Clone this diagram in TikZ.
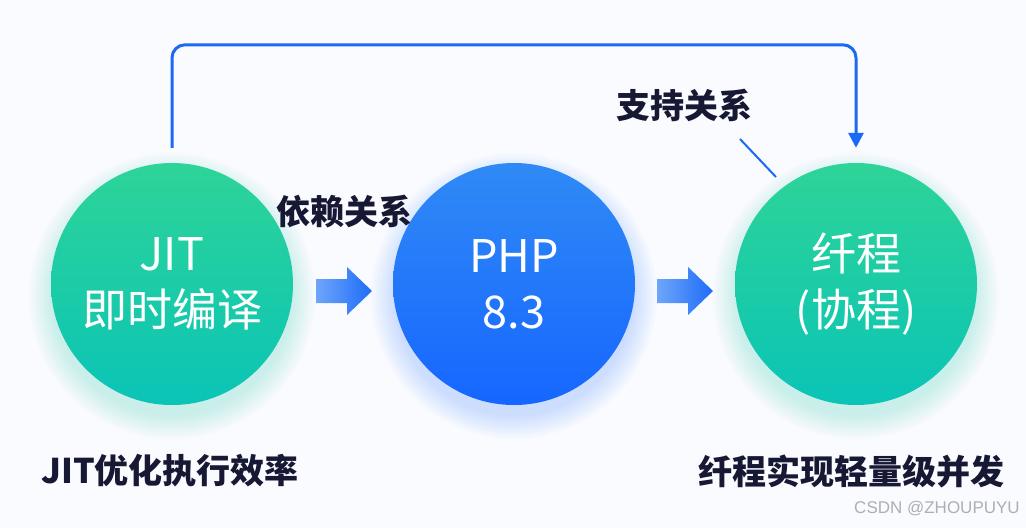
\documentclass[tikz,border=0pt]{standalone}
\usepackage{fontspec}
\setmainfont{Liberation Sans}
\newfontfamily\cjk{Noto Sans CJK SC}
\usetikzlibrary{arrows.meta}
\definecolor{gtop}{RGB}{46,212,152}
\definecolor{gbot}{RGB}{10,196,182}
\definecolor{btop}{RGB}{48,138,245}
\definecolor{bbot}{RGB}{22,102,255}
\definecolor{lineblue}{RGB}{26,106,245}
\definecolor{ink}{RGB}{22,24,52}
\definecolor{arl}{RGB}{110,165,250}
\definecolor{arr}{RGB}{30,108,248}
\definecolor{wm}{RGB}{175,175,178}
\definecolor{bgc}{RGB}{250,251,254}
\begin{document}
\begin{tikzpicture}[x=1pt,y=-1pt,
 circ/.style={circle,minimum size=242pt,inner sep=0pt,text=white,align=center,font=\cjk\fontsize{45}{56}\selectfont},
 gcirc/.style={circ,top color=gtop,bottom color=gbot},
 bcirc/.style={circ,top color=btop,bottom color=bbot},
 lab/.style={text=ink,font=\cjk\bfseries\fontsize{34}{40}\selectfont,inner sep=0pt},
 blk/.style={left color=arl,right color=arr,draw=none},
 conn/.style={lineblue,line width=3pt,rounded corners=13pt,-{Triangle[length=15pt,width=15pt]}},
 leader/.style={lineblue,line width=2pt}]
\useasboundingbox (0,0) rectangle (1026,528);
\fill[bgc] (0,0) rectangle (1026,528);
% soft glows
\foreach \i in {1,...,10}{
  \fill[gbot,opacity=0.018] (172,296) circle ({118+\i*2.5});
  \fill[bbot,opacity=0.018] (514,296) circle ({118+\i*2.5});
  \fill[gbot,opacity=0.018] (856,296) circle ({118+\i*2.5});
}
% circles
\node[gcirc] (jit) at (172,284) {JIT\\即时编译};
\node[bcirc] (php) at (514,284) {PHP\\8.3};
\node[gcirc] (fib) at (856,284) {纤程\\(协程)};
% block arrows
\coordinate (a1) at (344,291);
\coordinate (a2) at (685,291);
\foreach \a in {a1,a2}{
  \shade[blk] (\a) ++(-28,-12) -- ++(31,0) -- ++(0,-12) -- ++(25,24) -- ++(-25,24) -- ++(0,-12) -- ++(-31,0) -- cycle;
}
% labels
\node[lab] (dep) at (344,212) {依赖关系};
\node[lab] (sup) at (684,105) {支持关系};
\node[lab] (b1) at (170,471) {JIT优化执行效率};
\node[lab] (b2) at (851,471) {纤程实现轻量级并发};
\node[text=wm,font=\fontsize{17}{20}\selectfont,inner sep=0pt] (wmk) at (937,509) {CSDN @ZHOUPUYU};
% top connector
\draw[conn] ([yshift=15pt]jit.north) -- ([yshift=118pt]jit.north) -| ([yshift=15pt]fib.north);
% leader
\coordinate (ls) at (740,139);
\coordinate (le) at (776,177);
\draw[leader] (ls) -- (le);
\end{tikzpicture}
\end{document}
